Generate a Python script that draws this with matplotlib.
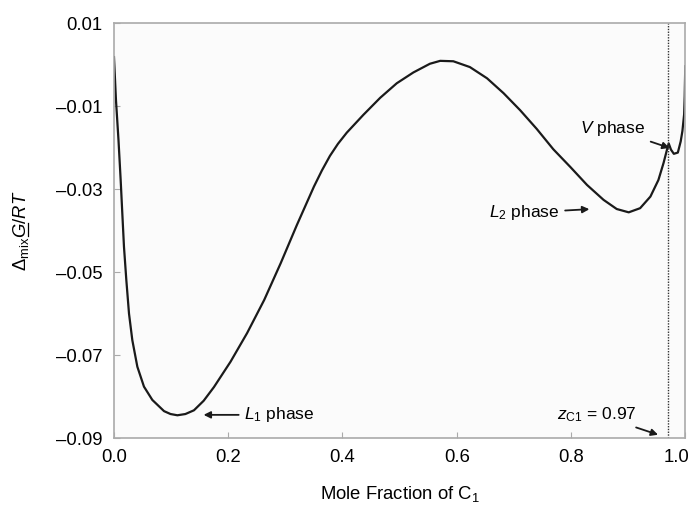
import matplotlib
matplotlib.use("Agg")
from matplotlib import pyplot as plt
from matplotlib.lines import Line2D
from matplotlib.transforms import ScaledTranslation

plt.rcParams['font.family'] = ['Liberation Sans', 'DejaVu Sans']
plt.rcParams['mathtext.fontset'] = 'custom'
plt.rcParams['mathtext.rm'] = 'Liberation Sans'
plt.rcParams['mathtext.it'] = 'Liberation Sans:italic'
plt.rcParams['mathtext.bf'] = 'Liberation Sans:bold'

# Gibbs energy of mixing along the C1 mole fraction
mole_frac = [0.0, 0.0035, 0.0079, 0.0117, 0.0146, 0.0175, 0.0216, 0.0263, 0.0321, 0.0409,
             0.0525, 0.0671, 0.0876, 0.099, 0.111, 0.125, 0.140, 0.157, 0.175, 0.204,
             0.233, 0.263, 0.292, 0.320, 0.350, 0.364, 0.378, 0.392, 0.4075, 0.4366,
             0.466, 0.495, 0.524, 0.553, 0.571, 0.594, 0.623, 0.653, 0.682, 0.711,
             0.740, 0.769, 0.799, 0.828, 0.857, 0.880, 0.901, 0.921, 0.939, 0.953,
             0.962, 0.968, 0.971, 0.975, 0.980, 0.987, 0.992, 0.995, 0.998, 0.999, 1.000]
dmix_g = [0.0018, -0.0086, -0.0182, -0.0278, -0.0359, -0.0439, -0.0519, -0.0600, -0.0664, -0.0728,
          -0.0776, -0.0808, -0.0835, -0.0842, -0.0845, -0.0842, -0.0833, -0.0810, -0.0777, -0.0716,
          -0.0647, -0.0567, -0.0478, -0.0387, -0.0294, -0.0255, -0.0220, -0.0191, -0.0164, -0.0121,
          -0.0080, -0.0045, -0.0019, 0.0002, 0.0009, 0.0008, -0.0006, -0.0033, -0.0069, -0.0110,
          -0.0155, -0.0204, -0.0247, -0.0290, -0.0326, -0.0348, -0.0356, -0.0346, -0.0318, -0.0278,
          -0.0237, -0.0205, -0.0190, -0.0205, -0.0215, -0.0212, -0.0185, -0.0160, -0.0120, -0.0077,
          -0.0004]

z_c1 = 0.97
xticks = [0.0, 0.2, 0.4, 0.6, 0.8, 1.0]
yticks = [0.01, -0.01, -0.03, -0.05, -0.07, -0.09]

fig = plt.figure(figsize=(6.95, 5.13), dpi=100)
ax = fig.add_axes([0.164, 0.146, 0.822, 0.809])
ax.set_facecolor('#fbfbfb')

ax.plot(mole_frac, dmix_g, color='#1a1a1a', lw=1.6, solid_joinstyle='round')
ax.axvline(z_c1, color='#333333', lw=1.0, ls=(0, (1, 1)))

ax.set_xlim(0, 1.0)
ax.set_ylim(-0.09, 0.01)
ax.set_xticks(xticks)
ax.set_xticklabels(['%.1f' % t for t in xticks])
ax.set_yticks(yticks)
ax.set_yticklabels(['%.2f' % t if t > 0 else '\u2013%.2f' % abs(t) for t in yticks])
ax.tick_params(direction='in', length=4, color='#aaaaaa', labelsize=13.3, pad=8)
for s in ax.spines.values():
    s.set_color('#aaaaaa')
    s.set_linewidth(1.2)
# keep the last x label inside the figure
last = ax.get_xticklabels()[-1]
last.set_transform(last.get_transform() + ScaledTranslation(-6 / 72, 0, fig.dpi_scale_trans))

fs = 13.3
ylab_pre = r'$\Delta_{\rm mix}$'
ylab_g = r'$\Delta_{\rm mix}G$'
ylab = r'$\Delta_{\rm mix}G/RT$'
ax.set_xlabel('Mole Fraction of C$_1$', fontsize=fs, labelpad=13)
ax.set_ylabel(ylab, fontsize=fs, labelpad=18)

arrow = dict(arrowstyle='-|>', color='#1a1a1a', lw=1.3, mutation_scale=10)
ax.annotate('$L_1$ phase', xy=(0.152, -0.0844), xytext=(0.228, -0.0844),
            fontsize=12.5, va='center', ha='left', arrowprops=arrow)
ax.annotate('$L_2$ phase', xy=(0.837, -0.0348), xytext=(0.78, -0.0357),
            fontsize=12.5, va='center', ha='right', arrowprops=arrow)
ax.annotate('$V$ phase', xy=(0.977, -0.0203), xytext=(0.93, -0.0155),
            fontsize=12.5, va='center', ha='right', arrowprops=arrow)
ax.annotate('$z_{\\rm C1}$ = 0.97', xy=(0.957, -0.0894), xytext=(0.915, -0.0843),
            fontsize=12.5, va='center', ha='right', arrowprops=arrow)

# underline the G of the y label (mathtext has no \underline)
fig.canvas.draw()
r = fig.canvas.get_renderer()
prop = ax.yaxis.label.get_fontproperties()
w_pre = r.get_text_width_height_descent(ylab_pre, prop, ismath=True)[0]
w_g = r.get_text_width_height_descent(ylab_g, prop, ismath=True)[0]
d_full = r.get_text_width_height_descent(ylab, prop, ismath=True)[2]
bb = ax.yaxis.label.get_window_extent(r)
xb = bb.x1 - d_full + 2.0
y0 = bb.y0 + w_pre + 0.5
y1 = bb.y0 + w_g - 1.0
W, H = fig.bbox.width, fig.bbox.height
fig.add_artist(Line2D([xb / W, xb / W], [y0 / H, y1 / H], color='black', lw=0.9,
                      transform=fig.transFigure))

fig.savefig('out.png', dpi=100)
